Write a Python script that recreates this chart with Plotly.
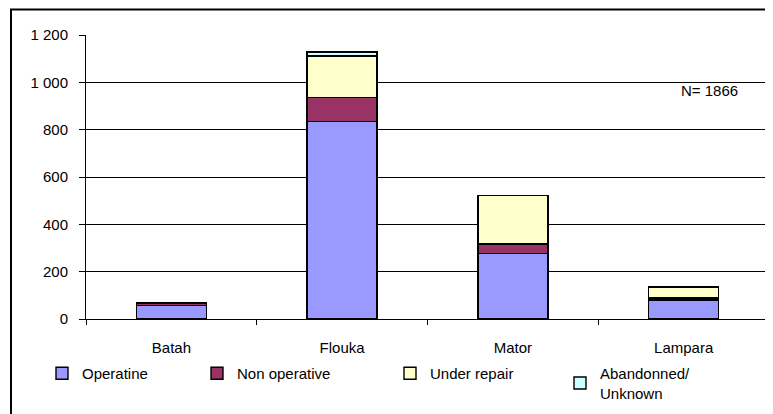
import plotly.graph_objects as go

categories = ["Batah", "Flouka", "Mator", "Lampara"]
operatine = [56, 835, 277, 80]
non_operative = [11, 102, 40, 8]
under_repair = [0, 175, 205, 48]
abandonned = [0, 17, 0, 0]
y_ticks = [0, 200, 400, 600, 800, 1000, 1200]

series = [
    ("Operatine", operatine, "#9999FF", "legend"),
    ("Non operative", non_operative, "#993366", "legend2"),
    ("Under repair", under_repair, "#FFFFCC", "legend3"),
    ("Abandonned/<br>Unknown", abandonned, "#CCFFFF", "legend4"),
]

fig = go.Figure()
for name, vals, col, lg in series:
    fig.add_trace(go.Bar(
        x=categories, y=vals, name=name, legend=lg,
        marker=dict(color=col, line=dict(color="black", width=1.4)),
    ))

# page body has an 8px margin; figure is laid out in page coordinates minus 8
OFF = 8
W, H = 773 - OFF, 414 - OFF
ml, mr, mt, mb = 86 - OFF, 4, 35 - OFF, 95
pw, ph = W - ml - mr, H - mt - mb

def px_x(p):  # page x -> paper x
    return (p - OFF - ml) / pw

def px_y(p):  # page y -> paper y
    return (H - mb - (p - OFF)) / ph

font = dict(family="Liberation Sans, Arial, sans-serif", size=15, color="black")
lg_common = dict(orientation="h", yanchor="top", xanchor="left", bgcolor="rgba(0,0,0,0)",
                 font=font, itemwidth=30, tracegroupgap=0)
lefts = [43, 198, 391, 561]
legends = {}
for i, key in enumerate(["legend", "legend2", "legend3", "legend4"]):
    legends[key] = dict(lg_common, x=px_x(lefts[i] - 1), y=px_y(357))

fig.update_layout(
    width=W, height=H,
    margin=dict(l=ml, r=mr, t=mt, b=mb, autoexpand=False),
    barmode="stack", bargap=0.59,
    plot_bgcolor="white", paper_bgcolor="white",
    separators=", ",
    font=font,
    showlegend=True,
    **legends,
    xaxis=dict(
        showline=True, linecolor="black", linewidth=1,
        ticks="outside", tickson="boundaries", ticklen=5, tickcolor="black",
        ticklabelstandoff=15, showgrid=False, tickfont=font, automargin=False,
    ),
    yaxis=dict(
        range=[0, 1200], tickvals=y_ticks, tickformat=",d",
        showline=True, linecolor="black", linewidth=1,
        ticks="outside", ticklen=6, tickcolor="black",
        ticklabelstandoff=8,
        showgrid=True, gridcolor="black", gridwidth=1,
        zeroline=False, tickfont=font, automargin=False,
    ),
    annotations=[dict(
        text="N= 1866", x=px_x(709), y=px_y(91), xref="paper", yref="paper",
        xanchor="center", yanchor="middle",
        showarrow=False, font=font,
    )],
    shapes=[dict(
        type="rect", xref="paper", yref="paper",
        x0=px_x(11), x1=px_x(800), y0=px_y(440), y1=px_y(9.5),
        line=dict(color="black", width=2), fillcolor="rgba(0,0,0,0)", layer="above",
    )],
)

fig.write_html("out.html")
